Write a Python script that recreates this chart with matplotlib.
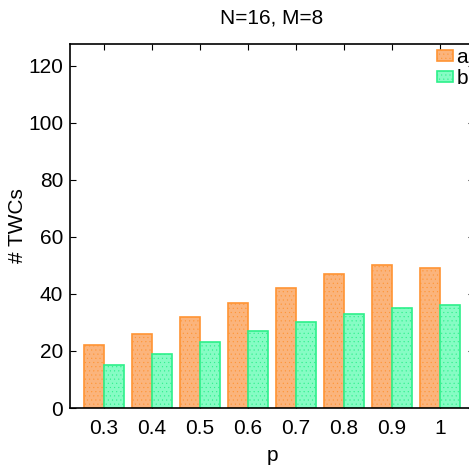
import matplotlib
matplotlib.use("Agg")
import matplotlib.pyplot as plt
import numpy as np

plt.rcParams['font.family'] = ['Liberation Sans', 'DejaVu Sans']
plt.rcParams['hatch.linewidth'] = 0.3

categories = ['0.3', '0.4', '0.5', '0.6', '0.7', '0.8', '0.9', '1']
series_a = [22, 26, 32, 37, 42, 47, 50, 49]
series_b = [15, 19, 23, 27, 30, 33, 35, 36]
yticks = [0, 20, 40, 60, 80, 100, 120]

fig = plt.figure(figsize=(4.69, 4.72), dpi=100)
ax = fig.add_axes([70/469, 64/472, 404/469, 364/472])

x = np.arange(len(categories))
w = 0.41
ax.bar(x - w/2, series_a, width=w, facecolor='#fbb47c', edgecolor='#ff9433', linewidth=1.2, label='a', hatch='....', zorder=2)
ax.bar(x + w/2, series_b, width=w, facecolor='#86fcc4', edgecolor='#2cf08a', linewidth=1.2, label='b', hatch='....', zorder=2)

ax.set_xlim(-0.71, 7.71)
ax.set_ylim(0, 127.7)
ax.set_xticks(x)
ax.set_xticklabels(categories)
ax.set_yticks(yticks)
ax.tick_params(axis='both', direction='in', labelsize=15, length=4, width=0.8,
               top=True, right=True)
ax.tick_params(axis='y', pad=5)
ax.tick_params(axis='x', pad=8)
for s in ax.spines.values():
    s.set_linewidth(1.2)

ax.set_title('N=16, M=8', fontsize=15, pad=15)
ax.set_xlabel('p', fontsize=15, labelpad=6)
ax.set_ylabel('# TWCs', fontsize=15, labelpad=1)

leg = ax.legend(loc='upper right', bbox_to_anchor=(468/469, (472-48)/472),
                bbox_transform=fig.transFigure, frameon=False, fontsize=15,
                handlelength=0.8, handleheight=0.45, handletextpad=0.15,
                labelspacing=0.1, borderpad=0, borderaxespad=0)

fig.savefig('out.png', dpi=100)
